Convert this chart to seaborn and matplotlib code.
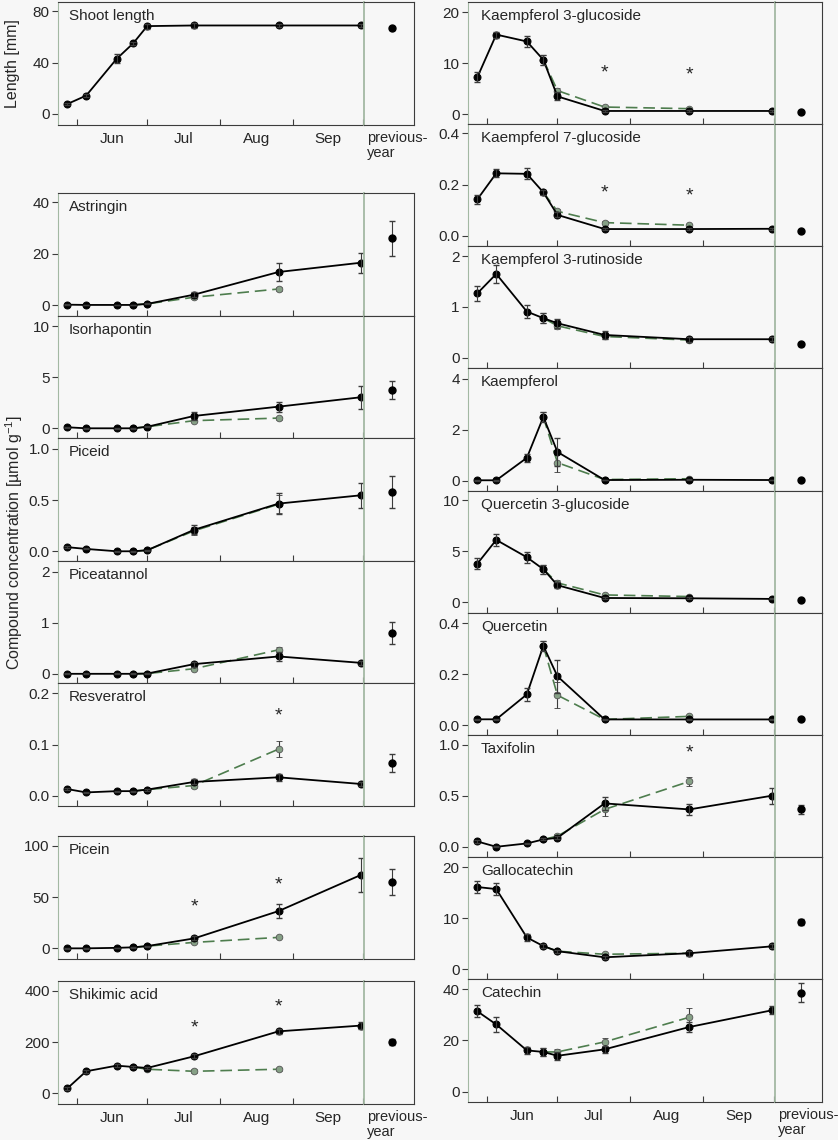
import numpy as np
import pandas as pd
import matplotlib
matplotlib.use("Agg")
import matplotlib.pyplot as plt
import seaborn as sns

# sampling dates, days after 1 June
days = [-4, 4, 17, 24, 30, 50, 86, 121]
green_days = [24, 30, 50, 86]
month_names = ["Jun", "Jul", "Aug", "Sep"]
month_starts = [0, 30, 61, 92, 122]

# Shoot length
shoot_mean = [7.8, 14.3, 43, 55, 68.5, 69, 69, 69]
shoot_err = [1, 1.2, 3.5, 1.5, 2, 2, 1, 1]
shoot_prev = [66.8, 1.2]

# left column compounds
astringin_mean = [0.2, 0.1, 0.1, 0.1, 0.5, 4.1, 12.9, 16.5]
astringin_err = [0.1, 0.1, 0.1, 0.1, 0.2, 1.0, 3.5, 3.9]
astringin_green = [0.1, 0.5, 3.1, 6.3]
astringin_green_err = [0.1, 0.2, 0.5, 0.8]
astringin_prev = [26.1, 6.8]

isorhapontin_mean = [0.1, 0.0, 0.0, 0.0, 0.15, 1.21, 2.12, 3.04]
isorhapontin_err = [0.05, 0.03, 0.03, 0.03, 0.05, 0.42, 0.5, 1.15]
isorhapontin_green = [0.0, 0.15, 0.75, 1.0]
isorhapontin_green_err = [0.03, 0.05, 0.15, 0.15]
isorhapontin_prev = [3.73, 0.9]

piceid_mean = [0.04, 0.023, 0.0, 0.0, 0.01, 0.21, 0.466, 0.547]
piceid_err = [0.01, 0.005, 0.003, 0.003, 0.005, 0.045, 0.1, 0.125]
piceid_green = [0.0, 0.01, 0.2, 0.46]
piceid_green_err = [0.003, 0.005, 0.04, 0.09]
piceid_prev = [0.58, 0.155]

piceatannol_mean = [0, 0, 0, 0, 0.005, 0.19, 0.34, 0.215]
piceatannol_err = [0.01, 0.01, 0.01, 0.01, 0.01, 0.05, 0.08, 0.04]
piceatannol_green = [0, 0.005, 0.1, 0.47]
piceatannol_green_err = [0.01, 0.01, 0.03, 0.06]
piceatannol_prev = [0.797, 0.21]

resveratrol_mean = [0.013, 0.0065, 0.009, 0.009, 0.012, 0.027, 0.036, 0.023]
resveratrol_err = [0.002, 0.001, 0.001, 0.001, 0.002, 0.005, 0.007, 0.003]
resveratrol_green = [0.009, 0.012, 0.02, 0.091]
resveratrol_green_err = [0.001, 0.002, 0.004, 0.016]
resveratrol_prev = [0.064, 0.017]
resveratrol_stars = [(86, 0.155)]

picein_mean = [0, 0, 0.5, 1, 2.2, 9.7, 36.4, 71.6]
picein_err = [0.3, 0.3, 0.3, 0.4, 0.5, 2, 7, 16.5]
picein_green = [1, 2.2, 5.8, 10.7]
picein_green_err = [0.4, 0.5, 1, 1]
picein_prev = [64.7, 12.5]
picein_stars = [(50, 40), (86, 62)]

shikimic_mean = [19.5, 86, 108, 103, 99, 144.6, 242, 264.5]
shikimic_err = [5, 5, 5, 5, 5, 8, 10, 15]
shikimic_green = [103, 94, 86, 94]
shikimic_green_err = [5, 5, 7, 6]
shikimic_prev = [200.6, 12]
shikimic_stars = [(50, 256), (86, 336)]

# right column compounds
k3g_mean = [7.25, 15.6, 14.25, 10.65, 3.46, 0.6, 0.6, 0.6]
k3g_err = [1, 0.6, 1, 1, 0.8, 0.2, 0.2, 0.2]
k3g_green = [10.65, 4.6, 1.37, 1.05]
k3g_green_err = [1, 0.5, 0.2, 0.2]
k3g_prev = [0.45, 0.15]
k3g_stars = [(50, 8.0), (86, 7.6)]

k7g_mean = [0.143, 0.244, 0.242, 0.170, 0.082, 0.027, 0.027, 0.028]
k7g_err = [0.018, 0.015, 0.022, 0.01, 0.01, 0.003, 0.003, 0.003]
k7g_green = [0.170, 0.096, 0.052, 0.042]
k7g_green_err = [0.01, 0.01, 0.005, 0.004]
k7g_prev = [0.021, 0.002]
k7g_stars = [(50, 0.166), (86, 0.155)]

k3r_mean = [1.27, 1.65, 0.91, 0.78, 0.68, 0.45, 0.366, 0.366]
k3r_err = [0.15, 0.17, 0.12, 0.1, 0.09, 0.07, 0.05, 0.04]
k3r_green = [0.78, 0.63, 0.42, 0.35]
k3r_green_err = [0.1, 0.06, 0.05, 0.04]
k3r_prev = [0.27, 0.03]

kaempferol_mean = [0.02, 0.02, 0.9, 2.5, 1.13, 0.03, 0.04, 0.03]
kaempferol_err = [0.01, 0.01, 0.15, 0.18, 0.55, 0.01, 0.02, 0.01]
kaempferol_green = [2.5, 0.71, 0.05, 0.08]
kaempferol_green_err = [0.18, 0.35, 0.02, 0.03]
kaempferol_prev = [0.03, 0.01]

q3g_mean = [3.79, 6.11, 4.41, 3.24, 1.67, 0.42, 0.39, 0.33]
q3g_err = [0.55, 0.55, 0.55, 0.45, 0.3, 0.1, 0.08, 0.05]
q3g_green = [3.24, 1.9, 0.72, 0.56]
q3g_green_err = [0.45, 0.3, 0.1, 0.08]
q3g_prev = [0.26, 0.04]

quercetin_mean = [0.0235, 0.0235, 0.121, 0.311, 0.192, 0.023, 0.023, 0.023]
quercetin_err = [0.002, 0.002, 0.027, 0.02, 0.065, 0.002, 0.002, 0.002]
quercetin_green = [0.311, 0.118, 0.023, 0.035]
quercetin_green_err = [0.02, 0.05, 0.002, 0.004]
quercetin_prev = [0.023, 0.002]

taxifolin_mean = [0.052, 0.0, 0.033, 0.072, 0.088, 0.425, 0.366, 0.5]
taxifolin_err = [0.01, 0.005, 0.008, 0.01, 0.015, 0.06, 0.05, 0.08]
taxifolin_green = [0.072, 0.105, 0.366, 0.64]
taxifolin_green_err = [0.01, 0.02, 0.06, 0.04]
taxifolin_prev = [0.366, 0.04]
taxifolin_stars = [(86, 0.915)]

gallocatechin_mean = [16.1, 15.7, 6.2, 4.5, 3.5, 2.3, 3.1, 4.45]
gallocatechin_err = [1.1, 1.2, 0.6, 0.4, 0.3, 0.3, 0.5, 0.4]
gallocatechin_green = [4.5, 3.5, 2.9, 3.1]
gallocatechin_green_err = [0.4, 0.3, 0.3, 0.4]
gallocatechin_prev = [9.3, 0.6]

catechin_mean = [31.3, 26.2, 16.1, 15.5, 14.0, 16.5, 25.2, 31.7]
catechin_err = [2.3, 3, 1.5, 1.5, 1.5, 1.5, 2, 1.5]
catechin_green = [15.5, 15.5, 19.4, 29.0]
catechin_green_err = [1.5, 1.3, 1.5, 3.5]
catechin_prev = [38.6, 3.6]

#%%
sns.set_style("white")
plt.rcParams["font.family"] = ["Liberation Sans", "DejaVu Sans"]
plt.rcParams["mathtext.fontset"] = "custom"
plt.rcParams["mathtext.rm"] = "Liberation Sans"
plt.rcParams["mathtext.default"] = "regular"

W, H = 838, 1140
BG = "#f7f7f7"
DARK = "#3c3c3c"
PALE = "#a3b8a3"
GREEN = "#4e7d4e"
GMARK = "#86a086"

fig = plt.figure(figsize=(W / 100, H / 100), dpi=100, facecolor=BG)

cols = {"L": (58, 364, 414), "R": (468, 775, 822)}

# name, column, top px, bottom px, ylim, yticks, tick labels, data..., month labels
panels = [
    ("Shoot length", "L", 2, 125, (-8.6, 87.3), [0, 40, 80], ["0", "40", "80"],
     shoot_mean, shoot_err, None, None, shoot_prev, [], True),
    ("Astringin", "L", 193, 316, (-4.2, 43.6), [0, 20, 40], ["0", "20", "40"],
     astringin_mean, astringin_err, astringin_green, astringin_green_err, astringin_prev, [], False),
    ("Isorhapontin", "L", 316, 438, (-0.95, 11.0), [0, 5, 10], ["0", "5", "10"],
     isorhapontin_mean, isorhapontin_err, isorhapontin_green, isorhapontin_green_err, isorhapontin_prev, [], False),
    ("Piceid", "L", 438, 561, (-0.095, 1.107), [0, 0.5, 1.0], ["0.0", "0.5", "1.0"],
     piceid_mean, piceid_err, piceid_green, piceid_green_err, piceid_prev, [], False),
    ("Piceatannol", "L", 561, 683, (-0.18, 2.21), [0, 1, 2], ["0", "1", "2"],
     piceatannol_mean, piceatannol_err, piceatannol_green, piceatannol_green_err, piceatannol_prev, [], False),
    ("Resveratrol", "L", 683, 806, (-0.02, 0.22), [0, 0.1, 0.2], ["0.0", "0.1", "0.2"],
     resveratrol_mean, resveratrol_err, resveratrol_green, resveratrol_green_err, resveratrol_prev, resveratrol_stars, False),
    ("Picein", "L", 836, 959, (-10.4, 109.7), [0, 50, 100], ["0", "50", "100"],
     picein_mean, picein_err, picein_green, picein_green_err, picein_prev, picein_stars, False),
    ("Shikimic acid", "L", 981, 1104, (-41.8, 438.7), [0, 200, 400], ["0", "200", "400"],
     shikimic_mean, shikimic_err, shikimic_green, shikimic_green_err, shikimic_prev, shikimic_stars, True),
    ("Kaempferol 3-glucoside", "R", 2, 124, (-1.96, 22), [0, 10, 20], ["0", "10", "20"],
     k3g_mean, k3g_err, k3g_green, k3g_green_err, k3g_prev, k3g_stars, False),
    ("Kaempferol 7-glucoside", "R", 124, 246, (-0.039, 0.436), [0, 0.2, 0.4], ["0.0", "0.2", "0.4"],
     k7g_mean, k7g_err, k7g_green, k7g_green_err, k7g_prev, k7g_stars, False),
    ("Kaempferol 3-rutinoside", "R", 246, 368, (-0.2, 2.2), [0, 1, 2], ["0", "1", "2"],
     k3r_mean, k3r_err, k3r_green, k3r_green_err, k3r_prev, [], False),
    ("Kaempferol", "R", 368, 491, (-0.4, 4.42), [0, 2, 4], ["0", "2", "4"],
     kaempferol_mean, kaempferol_err, kaempferol_green, kaempferol_green_err, kaempferol_prev, [], False),
    ("Quercetin 3-glucoside", "R", 491, 613, (-1.05, 10.9), [0, 5, 10], ["0", "5", "10"],
     q3g_mean, q3g_err, q3g_green, q3g_green_err, q3g_prev, [], False),
    ("Quercetin", "R", 613, 735, (-0.038, 0.44), [0, 0.2, 0.4], ["0.0", "0.2", "0.4"],
     quercetin_mean, quercetin_err, quercetin_green, quercetin_green_err, quercetin_prev, [], False),
    ("Taxifolin", "R", 735, 857, (-0.10, 1.095), [0, 0.5, 1.0], ["0.0", "0.5", "1.0"],
     taxifolin_mean, taxifolin_err, taxifolin_green, taxifolin_green_err, taxifolin_prev, taxifolin_stars, False),
    ("Gallocatechin", "R", 857, 979, (-1.96, 22), [0, 10, 20], ["0", "10", "20"],
     gallocatechin_mean, gallocatechin_err, gallocatechin_green, gallocatechin_green_err, gallocatechin_prev, [], False),
    ("Catechin", "R", 979, 1102, (-4.0, 43.9), [0, 20, 40], ["0", "20", "40"],
     catechin_mean, catechin_err, catechin_green, catechin_green_err, catechin_prev, [], True),
]


def rect(x0, x1, top, bot):
    return [x0 / W, 1 - bot / H, (x1 - x0) / W, (bot - top) / H]


for (name, col, top, bot, ylim, yt, ytl, mean, err, green, gerr,
     prev, stars, months) in panels:
    x0, xd, x1 = cols[col]
    ax = fig.add_axes(rect(x0, xd, top, bot), facecolor=BG)
    axp = fig.add_axes(rect(xd, x1, top, bot), facecolor=BG)

    if green is not None:
        sns.lineplot(x=green_days, y=green, ax=ax, color=GREEN, linewidth=1.2, zorder=2)
        ax.lines[-1].set_dashes([7, 3.5])
        ax.errorbar(green_days, green, yerr=gerr, fmt="o", color=GMARK, mec="#555555",
                    mew=0.6, ms=4.8, ecolor=DARK, elinewidth=0.8, capsize=2.5, zorder=3)

    df = pd.DataFrame({"day": days, "value": mean})
    sns.lineplot(data=df, x="day", y="value", ax=ax, color="black", linewidth=1.3,
                 marker="o", markersize=5, markeredgecolor="black", zorder=4)
    ax.errorbar(days, mean, yerr=err, fmt="none", ecolor=DARK, elinewidth=0.8,
                capsize=2.5, zorder=5)

    axp.errorbar([0.55], [prev[0]], yerr=[prev[1]], fmt="o", color="black", ms=5,
                 ecolor=DARK, elinewidth=0.8, capsize=2.5)

    for sx, sy in stars:
        ax.text(sx, sy, "*", ha="center", va="center", fontsize=14)

    ax.text(0.035 if col == "L" else 0.042, 0.885, name, transform=ax.transAxes,
            ha="left", va="center", fontsize=11)

    ax.set_xlim(-8, 122.4)
    ax.set_ylim(*ylim)
    axp.set_xlim(0, 1)
    axp.set_ylim(*ylim)
    ax.set_xlabel("")
    ax.set_ylabel("")

    ax.set_xticks(month_starts)
    ax.set_xticklabels([])
    ax.tick_params(axis="x", which="major", direction="in", length=4, width=0.8,
                   color=DARK, bottom=True)
    if months:
        ax.set_xticks([15, 45.5, 76.5, 107], minor=True)
        ax.set_xticklabels(month_names, minor=True, fontsize=11)
        ax.tick_params(axis="x", which="minor", length=0, pad=5)
        axp.text(0.06, -0.05, "previous-\nyear", transform=axp.transAxes,
                 ha="left", va="top", fontsize=10.5, linespacing=1.05)
    ax.set_yticks(yt)
    ax.set_yticklabels(ytl, fontsize=11)
    ax.tick_params(axis="y", direction="out", length=4, width=0.8, color=DARK,
                   left=True, pad=2)
    axp.set_xticks([])
    axp.set_yticks([])

    for s in ["top", "bottom"]:
        ax.spines[s].set_color(DARK)
        axp.spines[s].set_color(DARK)
    ax.spines["left"].set_color(PALE)
    ax.spines["right"].set_visible(False)
    axp.spines["left"].set_color(PALE)
    axp.spines["left"].set_linewidth(1.3)
    axp.spines["right"].set_color(DARK)

fig.text(12 / W, 1 - 64 / H, "Length [mm]", rotation=90, ha="center", va="center",
         fontsize=11.5)
fig.text(14 / W, 1 - 543 / H, "Compound concentration [µmol g$^{-1}$]", rotation=90,
         ha="center", va="center", fontsize=11.5)

fig.savefig("out.png", dpi=100, facecolor=BG)
